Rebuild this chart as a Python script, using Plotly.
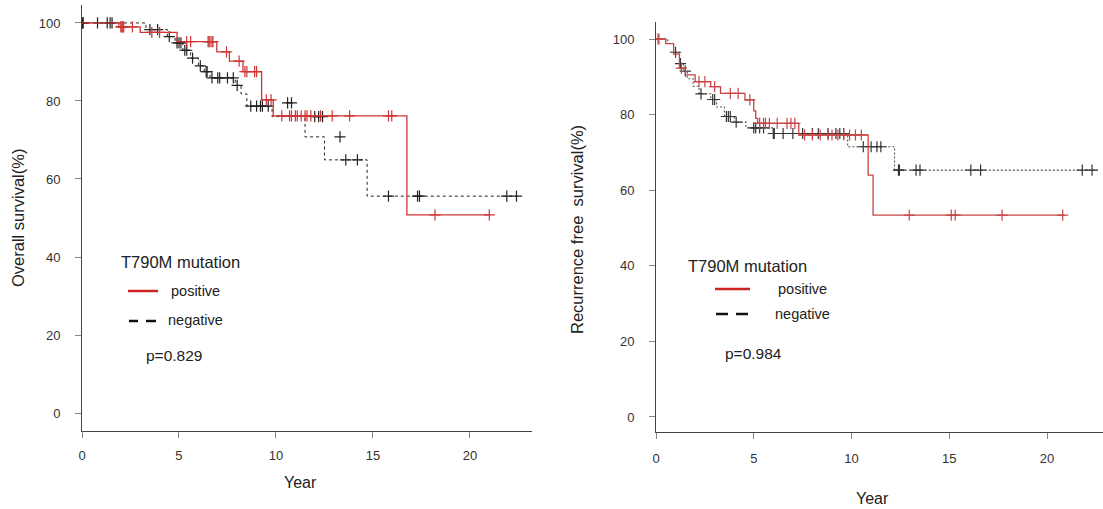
import plotly.graph_objects as go

W, H = 1103, 509

# ---------------- Overall survival data ----------------
os_pos_t = [0, 1.9, 3.0, 4.9, 6.95, 7.6, 8.3, 9.26, 9.86, 16.75]
os_pos_s = [100, 99.0, 97.6, 95.2, 92.6, 90.2, 87.5, 80.3, 76.2, 50.8]
os_pos_end = 21.0
os_pos_ct = [2.0, 2.05, 2.1, 2.15, 2.6, 3.6, 4.0, 5.4, 5.6, 6.5, 6.55, 6.6, 6.7, 6.75,
             7.45, 8.1, 8.4, 8.5, 8.9, 9.0, 9.5, 9.75,
             10.3, 10.7, 10.8, 11.0, 11.1, 11.3, 11.5, 11.6, 11.8, 12.3, 12.9, 13.8, 15.8, 15.97,
             18.2, 21.0]
os_pos_cs = [99.0, 99.0, 99.0, 99.0, 99.0, 97.6, 97.6, 95.2, 95.2, 95.2, 95.2, 95.2, 95.2, 95.2,
             92.6, 90.2, 87.5, 87.5, 87.5, 87.5, 80.3, 80.3,
             76.2, 76.2, 76.2, 76.2, 76.2, 76.2, 76.2, 76.2, 76.2, 76.2, 76.2, 76.2, 76.2, 76.2,
             50.8, 50.8]

os_neg_t = [0, 3.3, 4.4, 4.8, 5.2, 5.6, 6.0, 6.3, 6.6, 7.9, 8.2, 8.5, 9.8, 11.5, 12.5, 14.7]
os_neg_s = [100, 98.3, 96.5, 94.9, 93.0, 91.0, 89.0, 87.5, 85.9, 84.0, 81.8, 78.7, 76.0, 70.8, 64.9, 55.6]
os_neg_end = 22.6
os_neg_ct = [0.0, 0.03, 0.06, 0.8, 1.3, 1.45, 1.55, 3.5, 3.9, 4.5, 4.9, 5.0, 5.1, 5.3, 5.4, 5.7,
             6.1, 6.4, 6.45, 6.7, 7.0, 7.1, 7.5, 7.8, 8.0, 8.7, 9.0, 9.2, 9.3, 9.6,
             10.6, 10.8, 12.0, 12.2, 12.4, 13.3, 13.6, 14.2, 15.8, 17.3, 17.4, 21.9, 22.4]
os_neg_cs = [100, 100, 100, 100, 100, 100, 100, 98.3, 98.3, 96.5, 94.9, 94.9, 94.9, 93.0, 93.0, 91.0,
             89.0, 87.5, 87.5, 85.9, 85.9, 85.9, 85.9, 85.9, 84.0, 78.7, 78.7, 78.7, 78.7, 78.7,
             79.5, 79.5, 76.0, 76.0, 76.0, 70.8, 64.9, 64.9, 55.6, 55.6, 55.6, 55.6, 55.6]

# ---------------- Recurrence free survival data ----------------
rfs_pos_t = [0, 0.5, 0.9, 1.2, 1.5, 2.0, 2.8, 3.3, 4.55, 5.0, 5.1, 5.2, 7.3, 10.85, 11.1]
rfs_pos_s = [100, 98.8, 96.0, 92.3, 90.5, 88.7, 87.4, 85.6, 83.9, 81.0, 79.0, 77.7, 74.6, 64.0, 53.4]
rfs_pos_end = 20.9
rfs_pos_ct = [0.1, 0.15, 1.3, 2.2, 2.5, 3.0, 3.8, 4.2, 4.8, 5.3, 5.5, 5.6, 5.8, 6.2, 6.7, 6.9, 7.1,
              7.6, 8.0, 8.4, 8.8, 9.0, 9.3, 9.6, 9.9, 10.2, 10.5, 12.95, 15.1, 15.3, 17.7, 20.8]
rfs_pos_cs = [100, 100, 92.3, 88.7, 88.7, 87.4, 85.6, 85.6, 83.9, 77.7, 77.7, 77.7, 77.7, 77.7, 77.7, 77.7, 77.7,
              74.6, 74.6, 74.6, 74.6, 74.6, 74.6, 74.6, 74.6, 74.6, 74.6, 53.4, 53.4, 53.4, 53.4, 53.4]

rfs_neg_t = [0, 0.6, 0.9, 1.2, 1.4, 1.6, 1.9, 2.2, 2.8, 3.1, 3.5, 4.0, 4.6, 6.0, 9.8, 12.2]
rfs_neg_s = [100, 98.8, 96.5, 93.5, 91.5, 89.5, 87.5, 85.5, 84.0, 82.0, 79.5, 78.0, 76.5, 75.0, 71.5, 65.3]
rfs_neg_end = 22.6
rfs_neg_ct = [1.0, 1.25, 1.5, 2.3, 2.9, 3.0, 3.6, 3.7, 3.8, 4.1, 5.0, 5.1, 5.3, 5.5,
              6.0, 6.05, 6.5, 7.0, 7.5, 8.0, 8.3, 8.8, 9.2, 9.4, 9.6,
              10.6, 11.0, 11.3, 11.5, 12.4, 12.45, 13.3, 13.5, 16.1, 16.6, 21.8, 22.3]
rfs_neg_cs = [96.5, 93.5, 91.5, 85.5, 84.0, 84.0, 79.5, 79.5, 79.5, 78.0, 76.5, 76.5, 76.5, 76.5,
              75.0, 75.0, 75.0, 75.0, 75.0, 75.0, 75.0, 75.0, 75.0, 75.0, 75.0,
              71.5, 71.5, 71.5, 71.5, 65.3, 65.3, 65.3, 65.3, 65.3, 65.3, 65.3, 65.3]

x_ticks = [0, 5, 10, 15, 20]
y_ticks = [0, 20, 40, 60, 80, 100]

RED = "#cf3535"
BLK = "#222222"

fig = go.Figure()


def km(t, s, end, ct, cs, color, dash, xa, ya, width=1.2, mcolor=None):
    fig.add_trace(go.Scatter(x=t + [end], y=s + [s[-1]], mode="lines", line_shape="hv",
                             line=dict(color=color, width=width, dash=dash),
                             xaxis=xa, yaxis=ya, showlegend=False, hoverinfo="skip"))
    fig.add_trace(go.Scatter(x=ct, y=cs, mode="markers",
                             marker=dict(symbol="cross-thin", size=8,
                                         line=dict(color=mcolor or color, width=1.2)),
                             xaxis=xa, yaxis=ya, showlegend=False, hoverinfo="skip"))


km(os_neg_t, os_neg_s, os_neg_end, os_neg_ct, os_neg_cs, BLK, "3px,3px", "x", "y", 1.0)
km(os_pos_t, os_pos_s, os_pos_end, os_pos_ct, os_pos_cs, RED, "solid", "x", "y", 1.3)
km(rfs_neg_t, rfs_neg_s, rfs_neg_end, rfs_neg_ct, rfs_neg_cs, "#555555", "2px,2px", "x2", "y2", 1.1,
   mcolor="#333333")
km(rfs_pos_t, rfs_pos_s, rfs_pos_end, rfs_pos_ct, rfs_pos_cs, "#c84545", "solid", "x2", "y2", 1.3)


def px(x):
    return x / W


def py(y):
    return 1 - y / H


FONT = "Liberation Sans, Arial, sans-serif"
axis_common = dict(showgrid=False, zeroline=False, showline=True, linecolor="#444444", linewidth=1,
                   ticks="outside", ticklen=6, tickcolor="#888888",
                   tickfont=dict(size=13, color="#333333", family=FONT),
                   automargin=False, fixedrange=True)

fig.update_layout(
    width=W, height=H, margin=dict(l=0, r=0, t=0, b=0),
    paper_bgcolor="white", plot_bgcolor="white",
    xaxis=dict(domain=[px(82), px(532)], range=[0, 23.2], tickvals=x_ticks, anchor="y",
               ticklabelstandoff=6, **axis_common),
    yaxis=dict(domain=[py(431), py(5)], range=[-4.6, 104.6], tickvals=y_ticks, anchor="x",
               ticklabelstandoff=12, **axis_common),
    xaxis2=dict(domain=[px(656), px(1103)], range=[0, 22.86], tickvals=x_ticks, anchor="y2",
                ticklabelstandoff=8, **axis_common),
    yaxis2=dict(domain=[py(432), py(22)], range=[-3.97, 104.5], tickvals=y_ticks, anchor="x2",
                ticklabelstandoff=12, **axis_common),
)

ann = []


def text(x, y, s, size, angle=0, anchor="left"):
    ann.append(dict(x=px(x), y=py(y), xref="paper", yref="paper", text=s, showarrow=False,
                    xanchor=anchor, yanchor="middle", textangle=angle,
                    font=dict(size=size, color="#222222", family=FONT)))


text(300, 482, "Year", 16, anchor="center")
text(872, 498, "Year", 16, anchor="center")
text(18, 218, "Overall survival(%)", 16.5, angle=-90, anchor="center")
text(577, 230, "Recurrence free  survival(%)", 16.5, angle=-90, anchor="center")
text(119, 262, "T790M mutation", 16.5)
text(169, 291, "positive", 14.5)
text(166, 320, "negative", 14.5)
text(144, 355, "p=0.829", 15.5)
text(686, 266, "T790M mutation", 16.5)
text(776, 289, "positive", 14.5)
text(773, 314, "negative", 14.5)
text(723, 353, "p=0.984", 15.5)
fig.update_layout(annotations=ann)

shapes = [
    dict(type="line", xref="paper", yref="paper", x0=px(128), x1=px(158), y0=py(291), y1=py(291),
         line=dict(color="#cc2222", width=2.5)),
    dict(type="line", xref="paper", yref="paper", x0=px(129), x1=px(138), y0=py(321), y1=py(321),
         line=dict(color="#111111", width=2.5)),
    dict(type="line", xref="paper", yref="paper", x0=px(146), x1=px(156), y0=py(321), y1=py(321),
         line=dict(color="#111111", width=2.5)),
    dict(type="line", xref="paper", yref="paper", x0=px(715), x1=px(750), y0=py(289), y1=py(289),
         line=dict(color="#cc2222", width=2.5)),
    dict(type="line", xref="paper", yref="paper", x0=px(716), x1=px(728), y0=py(314), y1=py(314),
         line=dict(color="#111111", width=2.5)),
    dict(type="line", xref="paper", yref="paper", x0=px(736), x1=px(748), y0=py(314), y1=py(314),
         line=dict(color="#111111", width=2.5)),
]
fig.update_layout(shapes=shapes)

fig.write_html("out.html", config={"displayModeBar": False},
               post_script="document.body.style.margin='0px';document.body.style.overflow='hidden';")
